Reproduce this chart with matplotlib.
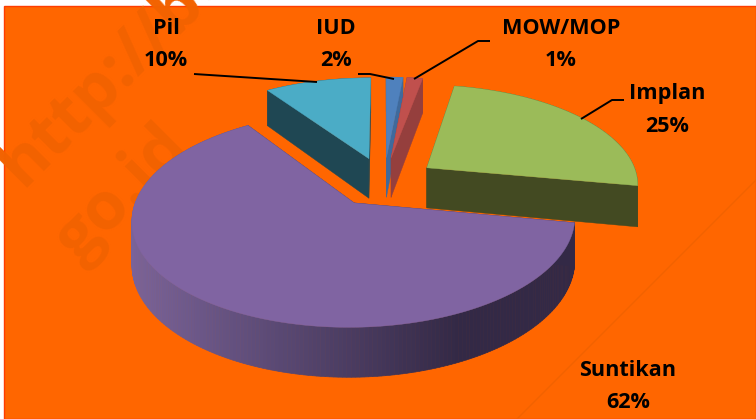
import numpy as np
import matplotlib
matplotlib.use("Agg")
import matplotlib.pyplot as plt
from matplotlib.patches import Polygon, Rectangle

categories = ["IUD", "MOW/MOP", "Implan", "Suntikan", "Pil"]
values = [1.5, 1.4, 25, 62.5, 9.5]
percent_labels = ["2%", "1%", "25%", "62%", "10%"]
top_colors = ["#4f81bd", "#c0504d", "#9bbb59", "#8064a2", "#4bacc6"]
side_colors = ["#3f6a9c", "#953f3d", "#434a22", "#3a2f52", "#1f4753"]

BG = "#ff6600"
CX, CY = 384, 181.5    # unexploded pie centre, px
R, RY = 212, 99        # ground radius scales, px
K = 0.148              # perspective strength
H = 41                 # extrusion, px
EXPLODE = 0.25


def project(X, Y, drop=0.0):
    s = 1.0 / (1.0 + K * Y)
    return CX + R * X * s, CY - RY * Y * s + drop * s


fig = plt.figure(figsize=(7.56, 4.19), dpi=100, facecolor="white")
ax = fig.add_axes([0, 0, 1, 1])
ax.set_xlim(0, 756)
ax.set_ylim(419, 0)
ax.axis("off")
ax.add_patch(Rectangle((4, 6), 752, 413, facecolor=BG, edgecolor="#ff3c00", lw=1.0, zorder=0))

WM = "#f26200"
wm = dict(color=WM, fontsize=48, fontweight="bold", family="Open Sans",
          rotation=45, rotation_mode="anchor", ha="left", va="baseline", zorder=1, clip_on=True)
ax.text(22, 188, "http://bel", **wm)
ax.text(78, 264, "go.id", **wm)
ax.plot([517, 756], [419, 180], color=WM, lw=1.0, zorder=1)

edges = np.cumsum([0] + values) / sum(values) * 2 * np.pi
z = 10
order = [4, 0, 1, 2, 3]
for i in order:
    a0, a1 = edges[i], edges[i + 1]
    mid = (a0 + a1) / 2
    ox, oy = EXPLODE * np.sin(mid), EXPLODE * np.cos(mid)
    th = np.linspace(a0, a1, max(8, int((a1 - a0) * 60)))
    gx, gy = ox + np.sin(th), oy + np.cos(th)
    top = np.column_stack(project(gx, gy))
    low = np.column_stack(project(gx, gy, H))
    apex = project(ox, oy)
    apex_low = project(ox, oy, H)
    # radial cut faces
    for j in (0, -1):
        ax.add_patch(Polygon([apex, top[j], low[j], apex_low], closed=True,
                             facecolor=side_colors[i], edgecolor=side_colors[i], lw=0.3, zorder=z))
        z += 1
    # outer rim
    if categories[i] == "Suntikan":
        lo, hi = np.array(matplotlib.colors.to_rgb("#7a6399")), np.array(matplotlib.colors.to_rgb("#332946"))
        xmin, xmax = top[:, 0].min(), top[:, 0].max()
        for k in range(len(th) - 1):
            t = (top[k, 0] - xmin) / (xmax - xmin)
            c = lo + (hi - lo) * min(1, t * 1.35)
            ax.add_patch(Polygon([top[k], top[k + 1], low[k + 1], low[k]], closed=True,
                                 facecolor=c, edgecolor=c, lw=0.5, zorder=z))
    else:
        ax.add_patch(Polygon(np.vstack([top, low[::-1]]), closed=True,
                             facecolor=side_colors[i], edgecolor=side_colors[i], lw=0.3, zorder=z))
    z += 1
    ax.add_patch(Polygon(np.vstack([[apex], top]), closed=True, facecolor=top_colors[i],
                         edgecolor=top_colors[i], lw=0.3, zorder=z))
    z += 1

label_xy = {"Pil": (166, 28, 60), "IUD": (336, 28, 60), "MOW/MOP": (561, 28, 60),
            "Implan": (667, 93, 126), "Suntikan": (628, 370, 402)}
for n, c in enumerate(categories):
    x, y1, y2 = label_xy[c]
    for s, y in ((c, y1), (percent_labels[n], y2)):
        ax.text(x, y, s, ha="center", va="center", fontsize=15.6, fontweight="bold",
                family="Open Sans", color="black", zorder=200)

leaders = [([194, 317], [74, 82]), ([358, 370, 394], [74, 74, 79]),
           ([490, 478, 414], [41, 41, 79]), ([624, 612, 581], [100, 100, 119])]
for xs, ys in leaders:
    ax.plot(xs, ys, color="black", lw=1.4, zorder=199, solid_capstyle="butt")

fig.savefig("out.png", dpi=100, facecolor="white")
